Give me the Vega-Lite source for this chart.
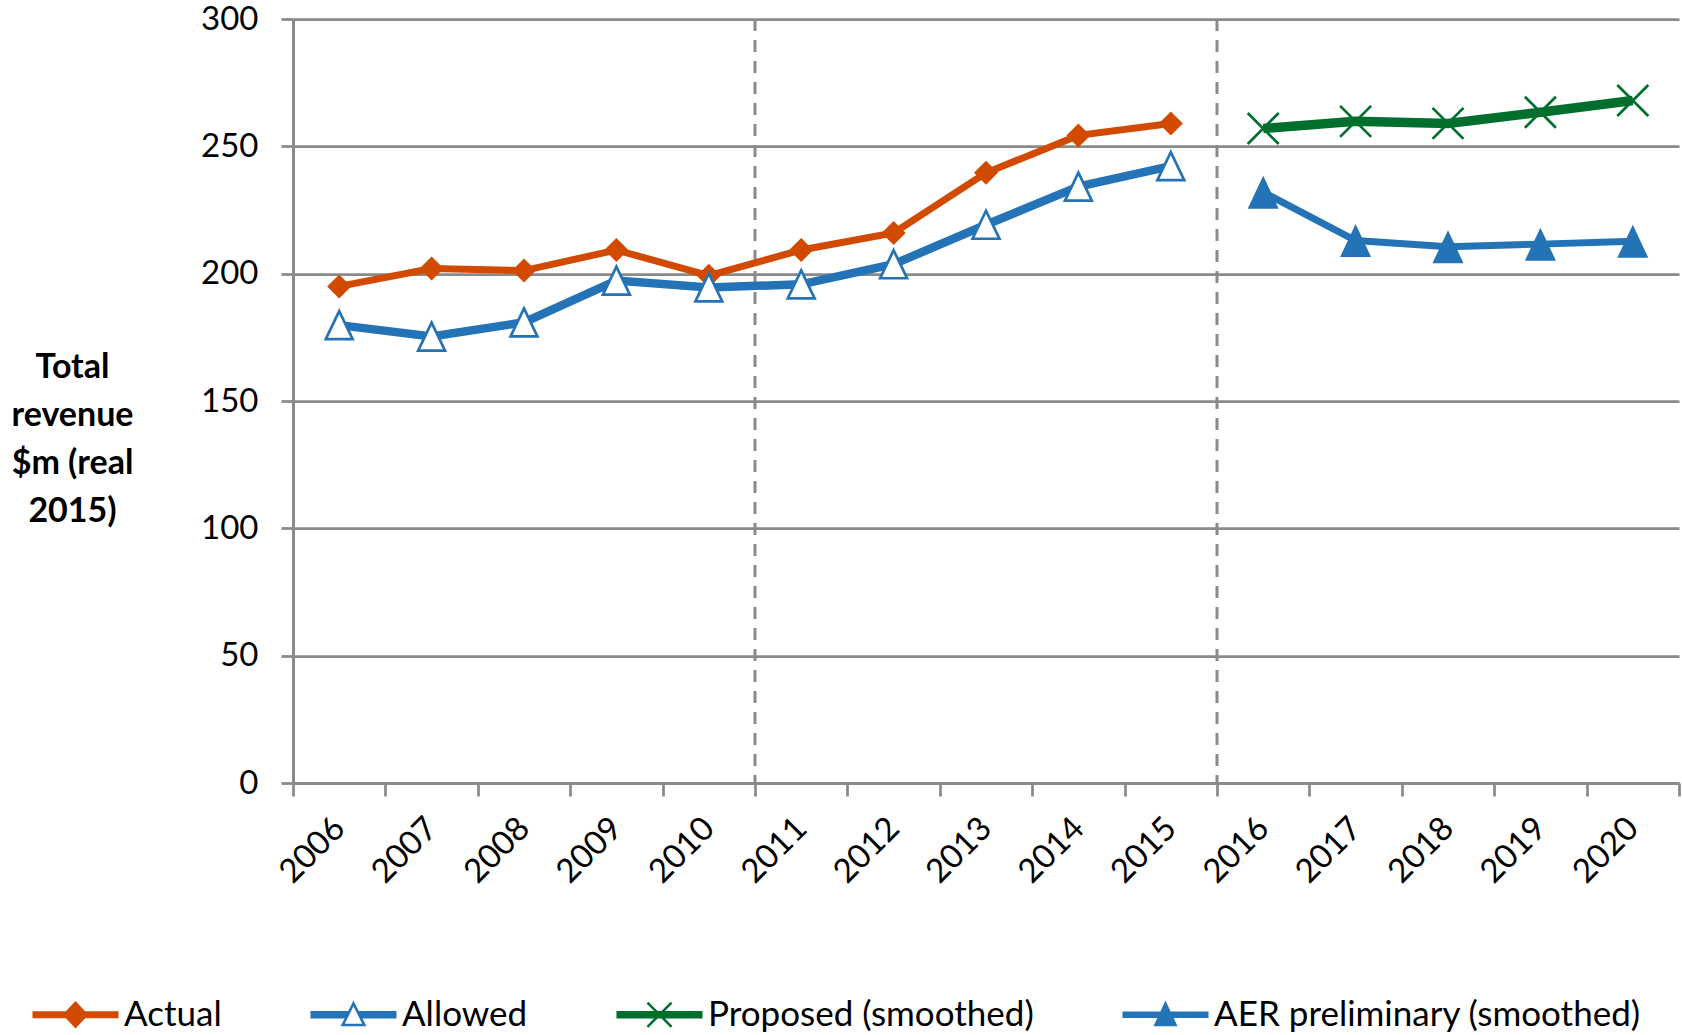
{
  "$schema": "https://vega.github.io/schema/vega-lite/v6.json",
  "width": 1386,
  "height": 764,
  "autosize": "none",
  "padding": {"left": 293, "top": 19, "right": 3, "bottom": 252},
  "background": "white",
  "config": {
    "font": "Lato",
    "view": {"stroke": null},
    "axis": {"labelFont": "Lato", "titleFont": "Lato", "labelColor": "#000000", "titleColor": "#000000"}
  },
  "datasets": {
    "revenue": [
      {"year": "2006", "series": "Actual", "value": 195.0},
      {"year": "2007", "series": "Actual", "value": 202.0},
      {"year": "2008", "series": "Actual", "value": 201.2},
      {"year": "2009", "series": "Actual", "value": 209.3},
      {"year": "2010", "series": "Actual", "value": 199.2},
      {"year": "2011", "series": "Actual", "value": 209.3},
      {"year": "2012", "series": "Actual", "value": 216.0},
      {"year": "2013", "series": "Actual", "value": 239.6},
      {"year": "2014", "series": "Actual", "value": 254.3},
      {"year": "2015", "series": "Actual", "value": 259.0},
      {"year": "2006", "series": "Allowed", "value": 179.8},
      {"year": "2007", "series": "Allowed", "value": 175.3},
      {"year": "2008", "series": "Allowed", "value": 180.9},
      {"year": "2009", "series": "Allowed", "value": 197.3},
      {"year": "2010", "series": "Allowed", "value": 194.6},
      {"year": "2011", "series": "Allowed", "value": 195.8},
      {"year": "2012", "series": "Allowed", "value": 203.7},
      {"year": "2013", "series": "Allowed", "value": 219.2},
      {"year": "2014", "series": "Allowed", "value": 234.2},
      {"year": "2015", "series": "Allowed", "value": 242.2},
      {"year": "2016", "series": "Proposed (smoothed)", "value": 257.0},
      {"year": "2017", "series": "Proposed (smoothed)", "value": 259.8},
      {"year": "2018", "series": "Proposed (smoothed)", "value": 259.0},
      {"year": "2019", "series": "Proposed (smoothed)", "value": 263.4},
      {"year": "2020", "series": "Proposed (smoothed)", "value": 268.0},
      {"year": "2016", "series": "AER preliminary (smoothed)", "value": 232.0},
      {"year": "2017", "series": "AER preliminary (smoothed)", "value": 213.0},
      {"year": "2018", "series": "AER preliminary (smoothed)", "value": 210.6},
      {"year": "2019", "series": "AER preliminary (smoothed)", "value": 211.6},
      {"year": "2020", "series": "AER preliminary (smoothed)", "value": 212.7}
    ],
    "dividers": [
      {"year": "2011", "top": 300, "bottom": 0},
      {"year": "2016", "top": 300, "bottom": 0}
    ]
  },
  "layer": [
    {
      "data": {"name": "dividers"},
      "mark": {"type": "rule", "color": "#8A8A8A", "strokeWidth": 3, "strokeDash": [12, 9]},
      "encoding": {
        "x": {"field": "year", "type": "nominal", "bandPosition": 0, "title": null},
        "y": {"field": "top", "type": "quantitative", "title": ["Total", "revenue", "$m (real", "2015)"]},
        "y2": {"field": "bottom"}
      }
    },
    {
      "data": {"name": "revenue"},
      "encoding": {
        "x": {
          "field": "year",
          "type": "nominal",
          "sort": null,
          "scale": {"type": "band", "paddingInner": 0, "paddingOuter": 0},
          "axis": {
            "title": null,
            "labelAngle": -45,
            "labelFontSize": 33,
            "labelPadding": 27,
            "tickBand": "extent",
            "tickSize": 13,
            "tickWidth": 2.75,
            "tickColor": "#8A8A8A",
            "domainColor": "#8A8A8A",
            "domainWidth": 3,
            "grid": false
          }
        },
        "y": {
          "field": "value",
          "type": "quantitative",
          "scale": {"domain": [0, 300], "nice": false},
          "axis": {
            "values": [0, 50, 100, 150, 200, 250, 300],
            "title": ["Total", "revenue", "$m (real", "2015)"],
            "titleAngle": 0,
            "titleFontSize": 34,
            "titleFontWeight": "bold",
            "titleLineHeight": 48,
            "titleAlign": "center",
            "titleBaseline": "middle",
            "titleX": -221,
            "titleY": 348,
            "labelFontSize": 33,
            "labelPadding": 23,
            "tickSize": 12,
            "tickWidth": 2.75,
            "tickColor": "#8A8A8A",
            "domainColor": "#8A8A8A",
            "domainWidth": 3,
            "grid": true,
            "gridColor": "#8A8A8A",
            "gridWidth": 2.75
          }
        }
      },
      "layer": [
        {
          "transform": [{"filter": "datum.series === 'Actual'"}],
          "mark": {"type": "line", "color": "#D24A00", "strokeWidth": 7}
        },
        {
          "transform": [{"filter": "datum.series === 'Allowed'"}],
          "mark": {"type": "line", "color": "#2473B6", "strokeWidth": 8.5}
        },
        {
          "transform": [{"filter": "datum.series === 'Proposed (smoothed)'"}],
          "mark": {"type": "line", "color": "#006F2E", "strokeWidth": 9.5}
        },
        {
          "transform": [{"filter": "datum.series === 'AER preliminary (smoothed)'"}],
          "mark": {"type": "line", "color": "#2473B6", "strokeWidth": 7}
        },
        {
          "transform": [{"filter": "datum.series === 'Actual'"}],
          "mark": {"type": "point", "shape": "diamond", "filled": true, "color": "#D24A00", "size": 576, "opacity": 1}
        },
        {
          "transform": [{"filter": "datum.series === 'Allowed'"}],
          "mark": {"type": "point", "shape": "M0,-1L0.96,1L-0.96,1Z", "filled": false, "fill": "white", "fillOpacity": 1, "stroke": "#2473B6", "strokeWidth": 2.7, "size": 784, "opacity": 1}
        },
        {
          "transform": [{"filter": "datum.series === 'Proposed (smoothed)'"}],
          "mark": {"type": "point", "shape": "M-1,-1L1,1M-1,1L1,-1", "filled": false, "stroke": "#006F2E", "strokeWidth": 2.7, "size": 961, "opacity": 1}
        },
        {
          "transform": [{"filter": "datum.series === 'AER preliminary (smoothed)'"}],
          "mark": {"type": "point", "shape": "M0,-1L0.94,1L-0.94,1Z", "filled": true, "color": "#2473B6", "size": 1089, "opacity": 1}
        },
        {
          "transform": [{"filter": "false"}],
          "mark": {"type": "point", "filled": true, "opacity": 1, "strokeWidth": 0},
          "encoding": {
            "color": {
              "field": "series",
              "type": "nominal",
              "scale": {
                "domain": ["Actual", "Allowed", "Proposed (smoothed)", "AER preliminary (smoothed)"],
                "range": ["#D24A00", "#2473B6", "#006F2E", "#2473B6"]
              },
              "legend": {"title": null, "orient": "none", "legendX": -261, "legendY": 952, "direction": "horizontal", "symbolSize": 7400, "symbolStrokeWidth": 0, "labelFontSize": 35, "labelFont": "Lato", "labelColor": "#000000", "labelOffset": 5, "columnPadding": 88, "labelLimit": 0}
            },
            "shape": {
              "field": "series",
              "type": "nominal",
              "scale": {
                "domain": ["Actual", "Allowed", "Proposed (smoothed)", "AER preliminary (smoothed)"],
                "range": [
                  "M-1,-0.08L1,-0.08L1,0.08L-1,0.08Z M0,-0.32L0.3,0L0,0.32L-0.3,0Z",
                  "M-1,-0.09L-0.12,-0.09L-0.21,0.09L-1,0.09Z M0.12,-0.09L1,-0.09L1,0.09L0.21,0.09Z M0,-0.33L0.3,0.27L-0.3,0.27Z M0,-0.196L-0.203,0.21L0.203,0.21Z",
                  "M-1,-0.09L1,-0.09L1,0.09L-1,0.09Z M-0.259,-0.301L0.301,0.259L0.259,0.301L-0.301,-0.259Z M0.259,-0.301L0.301,-0.259L-0.259,0.301L-0.301,0.259Z",
                  "M-1,-0.075L1,-0.075L1,0.075L-1,0.075Z M0,-0.33L0.28,0.27L-0.28,0.27Z"
                ]
              },
              "legend": {"title": null, "orient": "none", "legendX": -261, "legendY": 952, "direction": "horizontal", "symbolSize": 7400, "symbolStrokeWidth": 0, "labelFontSize": 35, "labelFont": "Lato", "labelColor": "#000000", "labelOffset": 5, "columnPadding": 88, "labelLimit": 0}
            }
          }
        }
      ]
    }
  ]
}
